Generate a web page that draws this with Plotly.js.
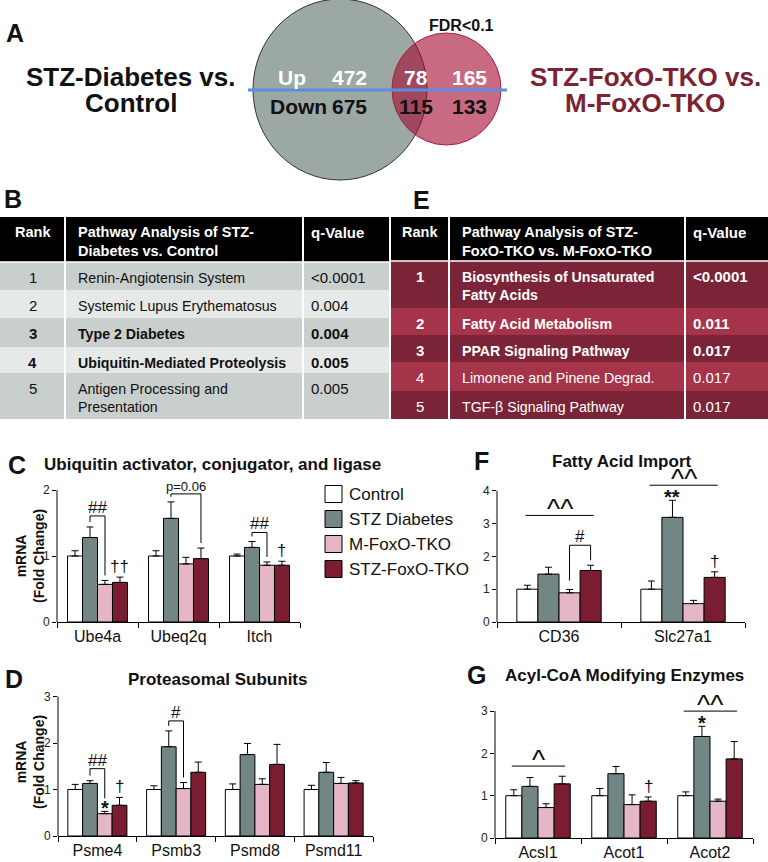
<!DOCTYPE html>
<html>
<head>
<meta charset="utf-8">
<script src="https://cdn.plot.ly/plotly-3.0.1.min.js"></script>
<style>
html, body { margin: 0; padding: 0; background: #fff; }
#fig { width: 768px; height: 862px; }
</style>
</head>
<body>
<div id="fig"></div>
<script>
// ---------- data ----------
var groupNames = ['Control', 'STZ Diabetes', 'M-FoxO-TKO', 'STZ-FoxO-TKO'];
var groupColors = ['#ffffff', '#728785', '#e4b6c6', '#7a1d31'];

// Venn counts (Up row / Down row): STZ only, overlap, FoxO only
var vennUp = [472, 78, 165];
var vennDown = [675, 115, 133];

// pathway tables
var rankB = ['1', '2', '3', '4', '5'];
var pathB = ['Renin-Angiotensin System', 'Systemic Lupus Erythematosus', 'Type 2 Diabetes',
             'Ubiquitin-Mediated Proteolysis', 'Antigen Processing and<br>Presentation'];
var qB = ['&lt;0.0001', '0.004', '0.004', '0.005', '0.005'];
var boldB = [false, false, true, true, false];

var rankE = ['1', '2', '3', '4', '5'];
var pathE = ['Biosynthesis of Unsaturated<br>Fatty Acids', 'Fatty Acid Metabolism', 'PPAR Signaling Pathway',
             'Limonene and Pinene Degrad.', 'TGF-β Signaling Pathway'];
var qE = ['&lt;0.0001', '0.011', '0.017', '0.017', '0.017'];
var boldE = [true, true, true, false, false];

// mRNA fold change, mean and SEM, one row per group
var genesC = ['Ube4a', 'Ubeq2q', 'Itch'];
var meanC = [[1.00, 1.00, 1.00], [1.28, 1.57, 1.13], [0.57, 0.88, 0.86], [0.60, 0.96, 0.86]];
var semC  = [[0.08, 0.08, 0.03], [0.16, 0.25, 0.09], [0.06, 0.10, 0.05], [0.08, 0.16, 0.06]];

var genesD = ['Psme4', 'Psmb3', 'Psmd8', 'Psmd11'];
var meanD = [[1.00, 1.00, 1.00, 1.00], [1.13, 1.92, 1.75, 1.37], [0.48, 1.02, 1.11, 1.13], [0.66, 1.37, 1.54, 1.14]];
var semD  = [[0.11, 0.08, 0.12, 0.09], [0.06, 0.34, 0.24, 0.21], [0.05, 0.13, 0.12, 0.13], [0.17, 0.22, 0.43, 0.05]];

var genesF = ['CD36', 'Slc27a1'];
var meanF = [[1.00, 1.00], [1.46, 3.19], [0.89, 0.56], [1.57, 1.36]];
var semF  = [[0.12, 0.25], [0.21, 0.52], [0.10, 0.10], [0.16, 0.17]];

var genesG = ['Acsl1', 'Acot1', 'Acot2'];
var meanG = [[1.00, 1.00, 1.00], [1.22, 1.52, 2.40], [0.72, 0.79, 0.87], [1.28, 0.87, 1.87]];
var semG  = [[0.14, 0.17, 0.09], [0.21, 0.17, 0.24], [0.09, 0.23, 0.05], [0.18, 0.10, 0.41]];

// significance marks
var marksC = [
  {kind: 'bracket', cat: 0, a: 1, b: 2, label: '##', pad: 11},
  {kind: 'bracket', cat: 1, a: 1, b: 3, label: 'p=0.06', pad: 8, small: true},
  {kind: 'bracket', cat: 2, a: 1, b: 2, label: '##', pad: 9},
  {kind: 'sym', cat: 0, k: 3, label: '††'},
  {kind: 'sym', cat: 2, k: 3, label: '†'}
];
var marksD = [
  {kind: 'bracket', cat: 0, a: 1, b: 2, label: '##', pad: 12, gapB: 13},
  {kind: 'bracket', cat: 1, a: 1, b: 2, label: '#', pad: 10},
  {kind: 'star', cat: 0, k: 2, label: '<b>*</b>'},
  {kind: 'sym', cat: 0, k: 3, label: '†'}
];
var marksF = [
  {kind: 'bracket', cat: 0, a: 2, b: 3, label: '#', pad: 20, gapA: 9},
  {kind: 'span', cat: 0, level: 3.25, label: '^^'},
  {kind: 'span', cat: 1, level: 4.17, label: '^^'},
  {kind: 'star', cat: 1, k: 1, label: '<b>**</b>'},
  {kind: 'sym', cat: 1, k: 3, label: '†'}
];
var marksG = [
  {kind: 'span', cat: 0, level: 1.70, label: '^'},
  {kind: 'span', cat: 2, level: 3.00, label: '^^'},
  {kind: 'sym', cat: 1, k: 3, label: '†'},
  {kind: 'star', cat: 2, k: 1, label: '<b>*</b>'}
];

// ---------- layout helpers ----------
var W = 768, H = 862;
var FONT = 'Liberation Sans, Arial, Helvetica, sans-serif';
function X(p) { return p / W; }
function Y(p) { return 1 - p / H; }

var shapes = [];
var ann = [];

function txt(x, y, s, o) {
  o = o || {};
  ann.push({
    xref: 'paper', yref: 'paper', x: X(x), y: Y(y), text: s, showarrow: false,
    xanchor: o.xa || 'center', yanchor: o.ya || 'middle', align: o.align || 'left',
    textangle: o.angle || 0,
    font: {family: FONT, size: o.size || 14, color: o.color || '#111'}
  });
}
function rect(x0, y0, x1, y1, fill, line) {
  shapes.push({
    type: 'rect', xref: 'paper', yref: 'paper', layer: 'below',
    x0: X(x0), x1: X(x1), y0: Y(y1), y1: Y(y0),
    fillcolor: fill, line: line || {width: 0}
  });
}
function pline(x0, y0, x1, y1, color, width) {
  shapes.push({
    type: 'line', xref: 'paper', yref: 'paper', x0: X(x0), x1: X(x1), y0: Y(y0), y1: Y(y1),
    line: {color: color, width: width}
  });
}

// ---------- A: Venn ----------
txt(15, 33, '<b>A</b>', {size: 25});
shapes.push({type: 'circle', xref: 'paper', yref: 'paper', x0: X(253), x1: X(427), y0: Y(180), y1: Y(-1),
  fillcolor: '#9ca8a4', line: {color: '#333', width: 1}});
shapes.push({type: 'circle', xref: 'paper', yref: 'paper', x0: X(392), x1: X(501), y0: Y(145), y1: Y(33),
  fillcolor: 'rgba(163,8,47,0.6)', line: {color: '#a2243f', width: 1}});
pline(248, 90, 507, 90, '#5b8ee0', 3);
txt(131, 77, '<b>STZ-Diabetes vs.</b>', {size: 26});
txt(131, 103, '<b>Control</b>', {size: 26});
txt(645, 77, '<b>STZ-FoxO-TKO vs.</b>', {size: 26, color: '#7b2335'});
txt(645, 103, '<b>M-FoxO-TKO</b>', {size: 26, color: '#7b2335'});
txt(461, 25, '<b>FDR&lt;0.1</b>', {size: 16});
var vennX = [349, 416, 469];
txt(292, 77, '<b>Up</b>', {size: 21, color: '#fff'});
txt(298, 107, '<b>Down</b>', {size: 21});
vennUp.forEach(function (v, i) { txt(vennX[i], 77, '<b>' + v + '</b>', {size: 21, color: '#fff'}); });
vennDown.forEach(function (v, i) { txt(vennX[i], 107, '<b>' + v + '</b>', {size: 21}); });

// ---------- B / E: tables ----------
function table(t) {
  rect(t.x0, t.top, t.x1, t.rows[0], '#000');
  txt((t.x0 + t.s1) / 2, t.top + 5, '<b>Rank</b>', {color: '#fff', ya: 'top', size: 14.5});
  txt(t.s1 + 11, t.top + 5, '<b>' + t.head + '</b>', {color: '#fff', ya: 'top', xa: 'left', size: 14.5});
  txt(t.s2 + 6, t.top + 5, '<b>q-Value</b>', {color: '#fff', ya: 'top', xa: 'left', size: 15});
  for (var i = 0; i < t.ranks.length; i++) {
    var y0 = t.rows[i], y1 = t.rows[i + 1];
    rect(t.x0, y0, t.x1, y1, t.fills[i % 2]);
    var b = t.bold[i] ? ['<b>', '</b>'] : ['', ''];
    txt((t.x0 + t.s1) / 2, y0 + 5, b[0] + t.ranks[i] + b[1], {color: t.color, ya: 'top', size: 15});
    txt(t.s1 + 11, y0 + 6, b[0] + t.paths[i] + b[1], {color: t.color, ya: 'top', xa: 'left', size: 14.2});
    txt(t.s2 + 6, y0 + 5, b[0] + t.qs[i] + b[1], {color: t.color, ya: 'top', xa: 'left', size: 15});
  }
  var bottom = t.rows[t.rows.length - 1];
  pline(t.s1, t.top, t.s1, bottom, '#fff', 2);
  pline(t.s2, t.top, t.s2, bottom, '#fff', 2);
  pline(t.x0, t.rows[0], t.x1, t.rows[0], '#fff', 1.5);
}
txt(13, 199, '<b>B</b>', {size: 25});
txt(421, 200, '<b>E</b>', {size: 25});
table({x0: 0, x1: 389, s1: 65, s2: 303, top: 217, rows: [262, 290, 318, 347, 373, 419],
  head: 'Pathway Analysis of STZ-<br>Diabetes vs. Control',
  ranks: rankB, paths: pathB, qs: qB, bold: boldB, fills: ['#c8cfcd', '#e5e9e8'], color: '#111'});
table({x0: 391, x1: 768, s1: 449, s2: 685, top: 217, rows: [261, 308, 335, 362, 391, 419],
  head: 'Pathway Analysis of STZ-<br>FoxO-TKO vs. M-FoxO-TKO',
  ranks: rankE, paths: pathE, qs: qE, bold: boldE, fills: ['#7b2437', '#a5344b'], color: '#fff'});

// ---------- C, D, F, G: bar charts ----------
var panels = [
  {genes: genesC, mean: meanC, sem: semC, marks: marksC, px: [57, 300], zero: 622, unit: 66, ymax: 2.2, ticks: [0, 1, 2], gap: 0.26, ytitle: 556},
  {genes: genesD, mean: meanD, sem: semD, marks: marksD, px: [58, 373], zero: 836, unit: 46.5, ymax: 3.1, ticks: [0, 1, 2, 3], gap: 0.25, ytitle: 762},
  {genes: genesF, mean: meanF, sem: semF, marks: marksF, px: [497, 745], zero: 622, unit: 32.8, ymax: 4.7, ticks: [0, 1, 2, 3, 4], gap: 0.32},
  {genes: genesG, mean: meanG, sem: semG, marks: marksG, px: [495, 753], zero: 838, unit: 42.3, ymax: 3.4, ticks: [0, 1, 2, 3], gap: 0.25}
];

txt(17, 465, '<b>C</b>', {size: 25});
txt(42, 465, '<b>Ubiquitin activator, conjugator, and ligase</b>', {size: 17, xa: 'left'});
txt(14, 679, '<b>D</b>', {size: 25});
txt(217, 679, '<b>Proteasomal Subunits</b>', {size: 17});
txt(481, 461, '<b>F</b>', {size: 25});
txt(621, 461, '<b>Fatty Acid Import</b>', {size: 17});
txt(476, 675, '<b>G</b>', {size: 25});
txt(503, 675, '<b>Acyl-CoA Modifying Enzymes</b>', {size: 17, xa: 'left'});

var traces = [];
var layout = {
  width: W, height: H, margin: {l: 0, r: 0, t: 0, b: 0},
  paper_bgcolor: '#fff', plot_bgcolor: 'rgba(0,0,0,0)',
  showlegend: false, barmode: 'overlay',
  font: {family: FONT, color: '#111'}
};

panels.forEach(function (p, pi) {
  var n = pi === 0 ? '' : String(pi + 1);
  var xa = 'x' + n, ya = 'y' + n;
  var w = (1 - p.gap) / 4;
  function pos(i, k) { return i - (1 - p.gap) / 2 + w * (k + 0.5); }
  function top(i, k) { return p.mean[k][i] + p.sem[k][i]; }

  for (var k = 0; k < 4; k++) {
    traces.push({
      type: 'bar', x: p.genes, y: p.mean[k], name: groupNames[k],
      xaxis: xa, yaxis: ya, width: w, offset: -(1 - p.gap) / 2 + w * k,
      marker: {color: groupColors[k], line: {color: '#000', width: 1}},
      error_y: {type: 'data', array: p.sem[k], arrayminus: p.sem[k].map(function () { return 0; }),
                symmetric: false, color: '#000', thickness: 1, width: 3.5},
      hoverinfo: 'skip'
    });
  }

  layout['xaxis' + n] = {
    domain: [X(p.px[0]), X(p.px[1])], anchor: ya, type: 'category',
    showline: true, linecolor: '#000', linewidth: 1,
    ticks: 'outside', ticklen: 5, tickcolor: '#000', tickson: 'boundaries',
    tickfont: {family: FONT, size: 16, color: '#111'},
    showgrid: false, zeroline: false, fixedrange: true
  };
  layout['yaxis' + n] = {
    domain: [Y(p.zero), Y(p.zero - p.unit * p.ymax)], anchor: xa,
    range: [0, p.ymax], tickvals: p.ticks, ticks: 'outside', ticklen: 4, tickcolor: '#000',
    tickfont: {family: FONT, size: 12, color: '#222'},
    showline: false, showgrid: false, zeroline: false, fixedrange: true
  };
  if (p.ytitle) {
    txt(30, p.ytitle, '<b>mRNA</b><br><b>(Fold Change)</b>', {size: 14, angle: -90, align: 'center'});
  }
  // y axis line only up to the top tick
  shapes.push({type: 'line', xref: xa + ' domain', yref: ya, x0: 0, x1: 0, y0: 0,
    y1: p.ticks[p.ticks.length - 1], line: {color: '#000', width: 1}});

  function seg(x0, y0, x1, y1) {
    shapes.push({type: 'line', xref: xa, yref: ya, x0: x0, x1: x1, y0: y0, y1: y1,
      line: {color: '#000', width: 1}});
  }
  function label(x, y, s, size, yshift) {
    ann.push({xref: xa, yref: ya, x: x, y: y, text: s, showarrow: false,
      xanchor: 'center', yanchor: 'bottom', yshift: yshift || 0,
      font: {family: FONT, size: size || 17, color: '#111'}});
  }

  p.marks.forEach(function (m) {
    if (m.kind === 'bracket') {
      var ta = top(m.cat, m.a), tb = top(m.cat, m.b);
      var lvl = Math.max(ta, tb) + m.pad / p.unit;
      var xa0 = pos(m.cat, m.a), xb0 = pos(m.cat, m.b);
      seg(xa0, ta + (m.gapA || 5) / p.unit, xa0, lvl);
      seg(xa0, lvl, xb0, lvl);
      seg(xb0, lvl, xb0, tb + (m.gapB || 5) / p.unit);
      label((xa0 + xb0) / 2, lvl, m.label, m.small ? 13 : 17, m.small ? -2 : -3);
    } else if (m.kind === 'span') {
      var g0 = m.cat - (1 - p.gap) / 2 + 0.07, g1 = m.cat + (1 - p.gap) / 2 - 0.06;
      seg(g0, m.level, g1, m.level);
      label((g0 + g1) / 2, m.level, m.label, 28, -11);
    } else if (m.kind === 'star') {
      label(pos(m.cat, m.k), top(m.cat, m.k), m.label, 20, -10);
    } else {
      label(pos(m.cat, m.k), top(m.cat, m.k), m.label, 17, -1);
    }
  });
});

// legend drawn by hand so the swatches match the figure size
var legY = [494, 519, 544, 569];
groupNames.forEach(function (name, k) {
  shapes.push({type: 'rect', xref: 'paper', yref: 'paper',
    x0: X(325), x1: X(342), y0: Y(legY[k] + 8.5), y1: Y(legY[k] - 8.5),
    fillcolor: groupColors[k], line: {color: '#000', width: 1}});
  txt(347, legY[k], name, {size: 17, xa: 'left'});
});

layout.shapes = shapes;
layout.annotations = ann;

Plotly.newPlot('fig', traces, layout, {staticPlot: true});
</script>
</body>
</html>
